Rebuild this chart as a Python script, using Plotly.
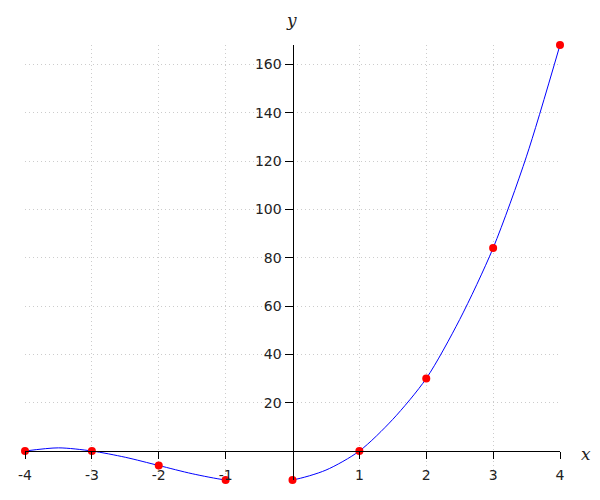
import plotly.graph_objects as go

# data points (red markers)
x_pts = [-4, -3, -2, -1, 0, 1, 2, 3, 4]
y_pts = [0, 0, -6, -12, -12, 0, 30, 84, 168]

# curve samples (blue line)
x_curve = [-4, -3.5, -3, -2.5, -2, -1.5, -1, -0.5, 0, 0.5, 1, 1.5, 2, 2.5, 3, 3.5, 4]
y_curve = [0, 1.3, 0, -2.6, -6, -9.4, -12, -13.1, -12, -7.9, 0, 13.1, 30, 54.4, 84, 122, 168]

x_ticks = [-4, -3, -2, -1, 1, 2, 3, 4]
y_ticks = [20, 40, 60, 80, 100, 120, 140, 160]

x_range = [-4, 4]
y_range = [-12, 168]

fig = go.Figure()
fig.add_trace(go.Scatter(x=x_curve, y=y_curve, mode="lines",
                         line=dict(color="#0000ff", width=1, shape="spline", smoothing=0.8),
                         hoverinfo="skip"))
fig.add_trace(go.Scatter(x=x_pts, y=y_pts, mode="markers",
                         marker=dict(color="#ff0000", size=8), cliponaxis=False))

xpos = (0 - y_range[0]) / (y_range[1] - y_range[0])
ypos = (0 - x_range[0]) / (x_range[1] - x_range[0])

font_tick = dict(family="DejaVu Sans", size=14, color="#222222")
grid = dict(showgrid=True, gridcolor="#cccccc", griddash="1px,3px", gridwidth=1)
fig.update_layout(
    width=592, height=492,
    margin=dict(l=17, r=40, t=37, b=20, autoexpand=False),
    paper_bgcolor="white", plot_bgcolor="white",
    showlegend=False,
    xaxis=dict(range=x_range, tickvals=x_ticks, ticktext=[str(v) for v in x_ticks],
               anchor="free", position=xpos, showline=True, linecolor="black", linewidth=1,
               ticks="outside", ticklen=7, tickcolor="black", tickfont=font_tick,
               zeroline=False, automargin=False, ticklabelstandoff=4, **grid),
    yaxis=dict(range=y_range, tickvals=y_ticks, ticktext=[str(v) for v in y_ticks],
               anchor="free", position=ypos, showline=True, linecolor="black", linewidth=1,
               ticks="outside", ticklen=8, tickcolor="black", tickfont=font_tick,
               zeroline=False, automargin=False, **grid),
    annotations=[
        dict(text="<i>y</i>", x=0, y=1, xref="x", yref="paper", yshift=37, xshift=-1,
             showarrow=False, font=dict(family="DejaVu Serif", size=17, color="#222222")),
        dict(text="<i>x</i>", x=1, y=0, xref="paper", yref="y", xanchor="center",
             yanchor="middle", xshift=26, yshift=-3,
             showarrow=False, font=dict(family="DejaVu Serif", size=17, color="#222222")),
    ],
)
fig.write_html("out.html")
